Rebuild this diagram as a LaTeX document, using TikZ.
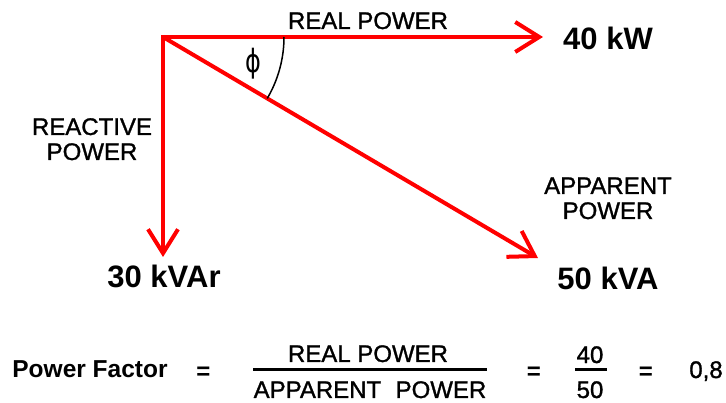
\documentclass[tikz,border=0pt]{standalone}
\usepackage{fontspec}
\setmainfont{Liberation Sans}
\newfontfamily\lblfont[FakeBold=1.2]{Liberation Sans}
\newfontfamily\dejavu{DejaVu Sans}
\usetikzlibrary{arrows.meta}
\begin{document}
\begin{tikzpicture}[x=1pt,y=-1pt,
  vec/.style={red,line width=4pt,-{Straight Barb[length=24pt,width=30pt,line width=4pt]}},
  lbl/.style={font=\lblfont\fontsize{24}{25}\selectfont,inner sep=0pt,align=center,anchor=base},
  val/.style={font=\fontsize{31}{31}\selectfont\bfseries,inner sep=0pt,anchor=base},
  frm/.style={font=\lblfont\fontsize{24}{24}\selectfont,inner sep=0pt,anchor=base},
  eqs/.style={font=\fontsize{24}{24}\selectfont\bfseries,inner sep=0pt,anchor=base},
  bar/.style={line width=3pt}
]
\useasboundingbox[fill=white] (0,0) rectangle (726,403);
% vectors
\coordinate (O) at (163,37);
\coordinate (P) at (543,37);
\coordinate (Q) at (163,257);
\coordinate (S) at (538,258);
\draw[vec,shorten <=-2pt] (O) -- (P);
\draw[vec,shorten <=-2pt] (O) -- (Q);
\draw[vec] (O) -- (S);
% angle
\draw[line width=1.5pt] (O) ++(0:121) arc[start angle=0,end angle=30.5,radius=121];
\node[inner sep=0pt,font=\dejavu\fontsize{32}{32}\selectfont,xscale=0.75] (phi) at (253,64) {ϕ};
% labels
\node[lbl] (real) at (368,29) {REAL POWER};
\node[val] (kw) at (608,50) {40 kW};
\node[lbl] (reac) at (92,160) {REACTIVE\\POWER};
\node[val] (kvar) at (164,288) {30 kVAr};
\node[lbl] (app) at (608,219) {APPARENT\\POWER};
\node[val] (kva) at (608,290) {50 kVA};
% formula
\node[frm,font=\fontsize{24.5}{25}\selectfont\bfseries] (pf) at (90,378) {Power Factor};
\node[eqs] (eq1) at (203.5,380) {=};
\node[frm] (num) at (368,362) {REAL POWER};
\node[frm] (den) at (370,398) {APPARENT\hspace{0.6em}POWER};
\coordinate (b1l) at (253,370);
\coordinate (b1r) at (487,370);
\draw[bar] (b1l) -- (b1r);
\node[eqs] (eq2) at (534,380) {=};
\node[frm] (n40) at (590,363) {40};
\node[frm] (d50) at (590,398) {50};
\coordinate (b2l) at (575,370);
\coordinate (b2r) at (607,370);
\draw[bar] (b2l) -- (b2r);
\node[eqs] (eq3) at (646,380) {=};
\node[frm] (res) at (706,378) {0,8};
\end{tikzpicture}
\end{document}
